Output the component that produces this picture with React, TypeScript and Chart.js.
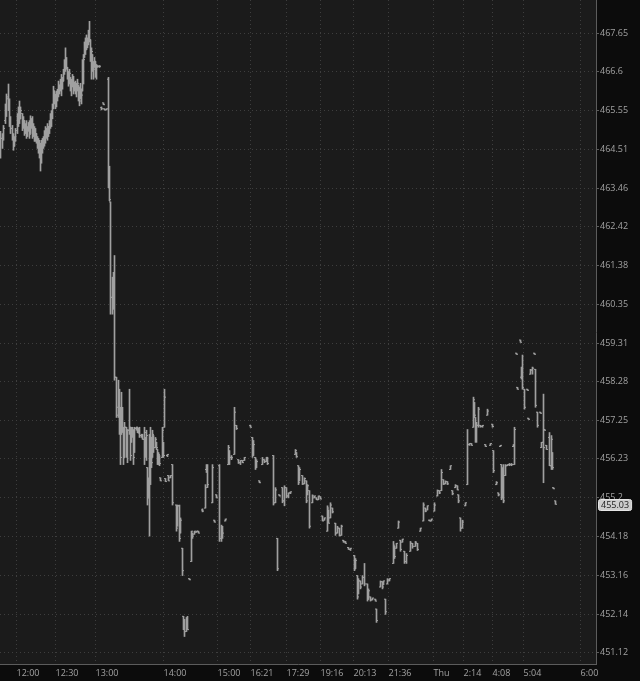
import React, { useEffect, useRef } from 'react';
import { Chart, registerables } from 'chart.js';

Chart.register(...registerables);

// [slot, open, high, low, close]
type Bar = [number, number, number, number, number];

const morningBars: Bar[] = [
  [0, 464.53, 464.99, 464.27, 464.8], [2, 464.8, 464.93, 464.53, 464.85], [3, 464.8, 465.15, 464.75, 465.07],
  [5, 465.28, 465.73, 465.2, 465.6], [6, 465.6, 466.0, 465.39, 465.87], [8, 465.92, 466.27, 465.55, 465.65],
  [9, 465.65, 465.87, 465.12, 465.33], [10, 465.33, 465.39, 464.93, 465.07], [12, 465.07, 465.15, 464.75, 464.85],
  [13, 464.85, 464.93, 464.48, 464.59], [14, 464.67, 464.85, 464.59, 464.8], [15, 464.8, 465.07, 464.72, 465.01],
  [17, 465.01, 465.47, 464.93, 465.39], [18, 465.39, 465.65, 465.12, 465.55], [19, 465.55, 465.81, 465.2, 465.33],
  [20, 465.33, 465.65, 465.33, 465.55], [22, 465.47, 465.47, 465.01, 465.12], [23, 465.12, 465.39, 465.07, 465.28],
  [24, 465.23, 465.28, 464.88, 464.96], [25, 465.01, 465.2, 464.93, 465.12], [26, 465.12, 465.28, 464.8, 464.91],
  [27, 464.96, 465.12, 464.85, 465.07], [28, 465.07, 465.23, 464.99, 465.17], [29, 465.17, 465.28, 464.8, 464.91],
  [30, 464.96, 465.41, 464.93, 465.33], [31, 465.28, 465.33, 465.07, 465.12], [32, 465.12, 465.39, 464.8, 464.93],
  [33, 464.93, 465.2, 464.85, 465.07], [34, 465.07, 465.12, 464.72, 464.8], [35, 464.8, 465.07, 464.72, 464.93],
  [36, 464.91, 464.93, 464.67, 464.72], [37, 464.75, 464.85, 464.53, 464.59], [38, 464.59, 464.8, 464.4, 464.53],
  [39, 464.53, 464.75, 464.27, 464.4], [40, 464.4, 464.67, 463.92, 464.53], [41, 464.53, 464.75, 464.13, 464.59],
  [42, 464.59, 464.8, 464.4, 464.67], [43, 464.67, 464.85, 464.53, 464.8], [44, 464.8, 465.01, 464.59, 464.93],
  [45, 464.93, 465.12, 464.67, 465.07], [46, 465.07, 465.07, 464.8, 464.85], [47, 464.85, 465.2, 464.75, 465.12],
  [48, 465.12, 465.12, 464.85, 465.01], [49, 465.01, 465.28, 464.93, 465.2], [50, 465.2, 465.47, 465.07, 465.39],
  [51, 465.39, 465.55, 465.12, 465.47], [52, 465.47, 465.73, 465.33, 465.65], [53, 465.65, 466.21, 465.6, 466.08],
  [54, 466.08, 466.08, 465.73, 465.87], [55, 465.87, 466.0, 465.6, 465.92], [56, 465.92, 466.08, 465.65, 466.0],
  [57, 466.0, 466.13, 465.81, 466.08], [58, 466.08, 466.35, 465.92, 466.24], [59, 466.24, 466.24, 466.0, 466.13],
  [60, 466.13, 466.4, 466.08, 466.29], [61, 466.29, 466.53, 465.95, 466.4], [62, 466.4, 466.45, 466.13, 466.35],
  [63, 466.35, 466.67, 466.35, 466.61], [64, 466.61, 466.93, 466.53, 466.8], [65, 466.8, 467.25, 466.61, 466.88],
  [66, 466.88, 466.99, 466.67, 466.72], [67, 466.72, 466.72, 466.4, 466.51], [68, 466.51, 466.61, 466.21, 466.29],
  [69, 466.29, 466.67, 466.27, 466.56], [70, 466.45, 466.45, 466.08, 466.13], [71, 466.13, 466.4, 465.95, 466.29],
  [72, 466.29, 466.53, 466.19, 466.45], [73, 466.45, 466.48, 466.0, 466.13], [74, 466.13, 466.32, 466.08, 466.24],
  [75, 466.24, 466.35, 466.0, 466.08], [76, 466.08, 466.29, 465.92, 466.19], [77, 466.19, 466.4, 466.08, 466.29],
  [78, 466.24, 466.24, 465.81, 465.92], [79, 465.92, 466.19, 465.68, 465.81], [80, 465.87, 466.29, 465.87, 466.13],
  [81, 466.13, 466.13, 465.73, 465.97], [82, 466.08, 466.93, 466.08, 466.8], [83, 466.8, 467.07, 466.27, 466.93],
  [84, 466.99, 467.41, 466.99, 467.33], [85, 467.33, 467.52, 467.07, 467.2], [86, 467.2, 467.6, 467.2, 467.47],
  [87, 467.47, 467.52, 467.25, 467.36], [88, 467.36, 467.73, 467.33, 467.63], [89, 467.63, 467.97, 467.41, 467.47],
  [90, 467.47, 467.47, 466.88, 466.99], [91, 466.99, 467.25, 466.4, 467.15], [92, 467.07, 467.07, 466.61, 466.72],
  [93, 466.72, 466.88, 466.4, 466.67], [94, 466.72, 466.99, 466.72, 466.88], [95, 466.88, 466.88, 466.45, 466.67],
  [96, 466.67, 466.8, 466.4, 466.75], [97, 466.75, 466.77, 466.72, 466.75], [99, 466.75, 466.77, 466.72, 466.75],
  [101, 465.63, 465.65, 465.57, 465.6], [103, 465.76, 465.76, 465.71, 465.71], [104, 465.6, 465.6, 465.57, 465.57],
  [106, 465.57, 465.6, 465.57, 465.6],
];

const dropBars: Bar[] = [
  [108, 466.4, 466.45, 463.47, 463.52], [109, 463.52, 464.05, 463.12, 463.15], [110, 463.09, 463.09, 460.08, 460.53],
  [112, 460.53, 461.07, 460.08, 460.8], [113, 460.8, 461.2, 460.21, 460.53], [114, 460.53, 461.65, 458.32, 458.4],
  [116, 458.4, 458.4, 457.33, 457.39], [118, 457.6, 458.32, 457.33, 457.87], [119, 457.87, 458.08, 456.88, 457.07],
  [120, 457.07, 457.6, 456.08, 456.27], [121, 456.88, 458.0, 456.88, 457.07], [122, 457.07, 457.6, 456.93, 457.01],
  [123, 457.01, 457.07, 456.08, 456.27], [124, 456.27, 457.2, 456.27, 457.07], [126, 457.07, 457.07, 456.27, 456.53],
  [127, 456.53, 457.01, 456.13, 456.99], [129, 456.99, 458.08, 456.88, 457.07], [130, 457.07, 457.07, 456.19, 456.32],
  [131, 456.67, 457.07, 456.67, 457.04], [132, 457.04, 457.07, 456.8, 456.93], [133, 456.93, 457.01, 456.08, 456.27],
  [134, 456.4, 457.07, 456.4, 457.04], [136, 457.04, 457.07, 456.99, 457.07], [137, 457.07, 457.07, 456.93, 456.93],
  [138, 456.93, 457.04, 456.91, 457.04], [139, 457.04, 457.07, 456.8, 456.85], [141, 456.85, 456.88, 456.8, 456.88],
  [142, 456.88, 456.88, 456.75, 456.75], [144, 456.75, 457.07, 456.08, 456.93], [145, 456.8, 456.8, 456.27, 456.4],
  [146, 456.4, 456.99, 456.19, 456.85], [147, 456.0, 456.0, 455.01, 455.2], [148, 455.2, 455.73, 455.2, 455.6],
  [149, 455.6, 456.88, 454.19, 456.0], [150, 456.0, 457.07, 455.55, 456.8], [151, 456.8, 456.8, 456.0, 456.13],
  [152, 456.27, 456.99, 456.27, 456.88], [153, 456.85, 456.85, 456.4, 456.53], [155, 456.53, 456.8, 456.53, 456.75],
  [156, 456.67, 456.67, 456.48, 456.53], [157, 456.48, 456.48, 456.08, 456.13], [158, 456.13, 456.4, 456.08, 456.35],
  [159, 456.32, 456.32, 456.05, 456.11], [160, 455.73, 455.73, 455.65, 455.65], [162, 456.27, 457.07, 456.27, 456.99],
  [163, 456.67, 456.67, 456.27, 456.32], [164, 457.07, 458.08, 457.07, 457.87], [165, 455.71, 455.71, 455.63, 455.63],
  [167, 456.32, 456.35, 456.29, 456.35], [168, 455.79, 455.79, 455.65, 455.65], [170, 455.73, 455.79, 455.73, 455.79],
  [172, 456.08, 456.08, 455.01, 455.07], [176, 455.01, 455.01, 454.32, 454.4], [177, 454.48, 455.01, 454.45, 454.99],
  [179, 454.99, 455.01, 454.05, 454.13], [180, 454.27, 454.67, 454.27, 454.61], [182, 453.87, 453.87, 453.15, 453.28],
  [183, 452.08, 452.08, 451.73, 451.92], [184, 451.92, 452.0, 451.55, 451.68], [186, 451.68, 452.05, 451.68, 452.0],
  [187, 452.0, 452.08, 451.73, 451.73], [189, 453.07, 453.07, 453.04, 453.04], [191, 453.52, 454.32, 453.52, 454.32],
  [192, 454.27, 454.27, 454.13, 454.19], [194, 454.24, 454.32, 454.24, 454.32], [196, 454.29, 454.32, 454.29, 454.32],
  [198, 454.32, 454.32, 454.27, 454.27],
];

const eveningBars: Bar[] = [
  [202, 454.88, 454.91, 454.83, 454.85], [205, 454.93, 455.55, 454.93, 455.47], [206, 455.95, 456.08, 455.87, 456.05],
  [207, 456.05, 456.08, 455.47, 455.55], [212, 455.07, 456.08, 455.07, 456.0], [214, 454.61, 454.61, 454.56, 454.56],
  [216, 455.28, 455.28, 455.2, 455.2], [219, 456.05, 456.08, 454.05, 454.13], [221, 454.13, 454.48, 454.05, 454.4],
  [222, 454.4, 454.45, 454.13, 454.27], [225, 454.59, 454.64, 454.59, 454.64], [228, 456.08, 456.59, 456.08, 456.53],
  [229, 456.45, 456.45, 456.08, 456.27], [231, 456.27, 456.32, 456.21, 456.27], [234, 456.35, 457.6, 456.35, 457.47],
  [236, 457.12, 457.12, 457.01, 457.04], [238, 456.21, 456.21, 456.11, 456.13], [240, 456.13, 456.19, 456.08, 456.19],
  [242, 456.19, 456.19, 456.13, 456.13], [244, 456.19, 456.27, 456.19, 456.27], [250, 457.12, 457.12, 457.07, 457.07],
  [252, 456.8, 456.8, 456.27, 456.32], [253, 456.32, 456.72, 456.32, 456.61], [255, 456.27, 456.27, 455.95, 456.0],
  [256, 456.0, 456.21, 456.0, 456.16], [259, 455.65, 455.65, 455.6, 455.6], [262, 456.08, 456.27, 456.08, 456.21],
  [264, 456.21, 456.21, 456.13, 456.16], [266, 456.16, 456.27, 456.16, 456.27], [267, 456.27, 456.27, 456.08, 456.11],
  [273, 456.32, 456.32, 455.01, 455.07], [275, 455.07, 455.47, 455.07, 455.41], [277, 454.13, 454.13, 453.28, 453.33],
  [279, 455.28, 455.28, 455.25, 455.25], [282, 455.47, 455.47, 455.07, 455.12], [284, 455.12, 455.52, 454.99, 455.47],
  [286, 455.47, 455.47, 455.2, 455.25], [288, 455.25, 455.33, 455.2, 455.33], [290, 455.33, 455.36, 455.31, 455.36],
  [295, 456.35, 456.48, 456.35, 456.45], [296, 456.4, 456.4, 456.27, 456.29], [298, 456.05, 456.05, 455.55, 455.6],
  [299, 455.65, 456.0, 455.65, 455.95], [302, 455.79, 455.79, 455.55, 455.57], [304, 455.57, 455.73, 455.57, 455.71],
  [306, 455.65, 455.65, 455.07, 455.12], [307, 455.28, 455.55, 455.28, 455.52], [309, 455.39, 455.39, 454.4, 454.45],
  [312, 455.07, 455.28, 455.07, 455.25], [314, 455.2, 455.25, 455.2, 455.25], [316, 455.2, 455.2, 455.15, 455.15],
  [318, 455.15, 455.25, 455.15, 455.25], [320, 455.23, 455.23, 455.17, 455.17], [322, 454.72, 454.72, 454.59, 454.59],
  [324, 454.61, 454.67, 454.61, 454.67], [327, 454.32, 454.99, 454.32, 454.93], [328, 454.88, 454.88, 454.53, 454.53],
  [330, 454.67, 455.07, 454.67, 455.01], [332, 454.93, 454.93, 454.8, 454.83],
];

const overnightBars: Bar[] = [
  [335, 454.53, 454.53, 454.21, 454.27], [337, 454.27, 454.45, 454.27, 454.4], [339, 454.4, 454.4, 454.19, 454.21],
  [341, 454.21, 454.48, 454.21, 454.45], [343, 454.08, 454.08, 454.03, 454.03], [345, 454.05, 454.05, 454.0, 454.0],
  [348, 453.89, 453.89, 453.84, 453.84], [350, 453.84, 453.87, 453.81, 453.87], [354, 453.68, 453.68, 453.28, 453.33],
  [355, 453.33, 453.6, 453.33, 453.55], [357, 453.15, 453.15, 452.53, 452.59], [358, 452.67, 453.07, 452.67, 453.01],
  [360, 453.01, 453.01, 452.8, 452.85], [362, 452.93, 453.15, 452.93, 453.1], [364, 453.1, 453.47, 452.88, 452.93],
  [367, 452.93, 452.93, 452.48, 452.53], [368, 452.53, 452.8, 452.53, 452.75], [370, 452.59, 452.59, 452.48, 452.51],
  [372, 452.51, 452.56, 452.51, 452.56], [375, 452.53, 452.53, 452.48, 452.48], [376, 452.27, 452.27, 451.92, 451.97],
  [380, 452.85, 453.01, 452.85, 452.99], [382, 452.99, 452.99, 452.8, 452.85], [383, 452.91, 453.01, 452.91, 453.01],
  [385, 452.53, 452.53, 452.13, 452.2], [387, 452.93, 453.07, 452.93, 453.04], [389, 453.01, 453.07, 453.01, 453.07],
  [393, 453.47, 454.05, 453.47, 453.95], [394, 453.92, 453.92, 453.6, 453.65], [396, 453.87, 454.0, 453.87, 454.0],
  [398, 454.4, 454.59, 454.4, 454.56], [400, 454.08, 454.08, 453.79, 453.84], [402, 454.03, 454.11, 454.03, 454.11],
  [404, 453.79, 453.79, 453.47, 453.52], [406, 453.52, 453.73, 453.47, 453.68], [410, 453.79, 454.05, 453.79, 454.0],
  [412, 454.0, 454.0, 453.87, 453.92], [415, 453.92, 454.05, 453.92, 454.03], [417, 454.0, 454.0, 453.81, 453.84],
  [420, 454.32, 454.4, 454.32, 454.4],
];

const earlyBars: Bar[] = [
  [423, 454.59, 455.07, 454.59, 455.01], [425, 454.93, 454.93, 454.83, 454.85], [427, 454.88, 454.99, 454.88, 454.99],
  [429, 454.61, 454.61, 454.59, 454.59], [431, 454.59, 454.64, 454.59, 454.64], [434, 454.85, 455.07, 454.85, 455.01],
  [437, 455.25, 455.41, 455.25, 455.39], [439, 455.39, 455.39, 455.31, 455.33], [441, 455.39, 455.95, 455.39, 455.87],
  [443, 455.68, 455.68, 455.55, 455.57], [445, 455.57, 455.65, 455.57, 455.63], [447, 455.63, 455.63, 455.55, 455.57],
  [450, 455.95, 456.05, 455.95, 456.05], [452, 455.39, 455.39, 455.28, 455.31], [455, 455.47, 455.55, 455.47, 455.52],
  [457, 455.52, 455.52, 455.41, 455.41], [458, 455.28, 455.28, 455.07, 455.12], [460, 454.67, 454.67, 454.32, 454.4],
  [462, 454.4, 454.61, 454.4, 454.56], [465, 454.99, 455.07, 454.99, 455.07], [467, 455.55, 457.01, 455.55, 456.61],
  [469, 456.61, 456.64, 456.59, 456.64], [471, 456.64, 456.64, 456.59, 456.59], [473, 457.07, 457.87, 457.07, 457.8],
  [474, 457.73, 457.73, 457.33, 457.39], [475, 457.33, 457.33, 456.67, 456.75], [476, 456.75, 457.2, 456.67, 457.12],
  [478, 457.12, 457.6, 457.07, 457.55], [480, 457.12, 457.12, 457.07, 457.09], [482, 457.09, 457.12, 457.07, 457.12],
  [485, 456.61, 456.61, 456.56, 456.56], [487, 457.39, 457.55, 457.39, 457.5], [490, 456.59, 456.64, 456.59, 456.64],
  [492, 457.15, 457.15, 457.07, 457.09], [493, 456.45, 456.45, 455.87, 455.92], [496, 455.55, 455.63, 455.55, 455.6],
  [498, 455.33, 455.33, 455.25, 455.28], [500, 456.56, 456.59, 456.56, 456.59], [501, 456.08, 456.08, 455.15, 455.2],
  [502, 455.2, 456.0, 455.2, 455.95], [503, 455.95, 456.08, 455.07, 455.12], [505, 455.79, 456.08, 455.79, 456.05],
  [507, 456.05, 456.08, 456.05, 456.08], [509, 456.08, 456.11, 456.05, 456.08], [511, 456.08, 456.11, 456.05, 456.08],
  [513, 456.56, 456.61, 456.56, 456.61], [514, 456.08, 457.07, 456.08, 457.01], [516, 459.04, 459.04, 459.01, 459.01],
  [517, 458.13, 458.13, 458.08, 458.08], [520, 459.39, 459.39, 459.33, 459.33], [521, 458.4, 458.67, 458.35, 458.59],
  [522, 458.59, 458.99, 458.08, 458.13], [524, 458.08, 458.08, 457.55, 457.6], [527, 458.08, 458.08, 458.05, 458.05],
  [528, 457.31, 457.31, 457.28, 457.28], [530, 458.48, 458.61, 458.48, 458.59], [532, 458.59, 458.67, 458.48, 458.64],
  [534, 459.04, 459.04, 459.01, 459.01], [535, 458.61, 458.61, 457.6, 457.65], [537, 457.47, 457.47, 457.07, 457.12],
  [540, 457.47, 457.47, 457.44, 457.44], [541, 456.53, 456.67, 456.53, 456.67], [543, 456.67, 457.95, 455.6, 456.53],
  [544, 457.01, 457.01, 456.99, 456.99], [546, 456.59, 456.59, 456.48, 456.48], [549, 456.8, 456.93, 456.05, 456.05],
  [551, 456.05, 456.85, 455.95, 456.75], [552, 456.4, 456.4, 455.95, 456.0], [553, 455.47, 455.47, 455.44, 455.44],
  [555, 455.12, 455.12, 455.03, 455.03],
];

const priceTicks = [
  451.12, 452.14, 453.16, 454.18, 455.2, 456.23, 457.25, 458.28, 459.31,
  460.35, 461.38, 462.42, 463.46, 464.51, 465.55, 466.6, 467.65,
];
const timeSlots = [16, 55, 95, 163, 217, 250, 286, 320, 353, 388, 433, 463, 492, 523, 580];
const timeLabels = ['12:00', '12:30', '13:00', '14:00', '15:00', '16:21', '17:29', '19:16', '20:13', '21:36', 'Thu', '2:14', '4:08', '5:04', '6:00'];
const lastPrice = 455.03;
const priceRange = [450.83, 468.55];
const slotRange = [-0.5, 595.5];

const BG = '#0c0c0c';
const PLOT = '#1b1b1b';
const GRID = '#3e3e3e';
const AXIS = '#5c5c5c';
const TEXT = '#a2a2a2';
const BAR = '#a0a0a0';
const FONT = { family: '"Open Sans", "Noto Sans", sans-serif', size: 9 };

const noPadding = (s: any) => {
  s.paddingTop = 0;
  s.paddingBottom = 0;
  s.paddingLeft = 0;
  s.paddingRight = 0;
};

const bgPlugin = {
  id: 'bgPlugin',
  beforeDraw(chart: any) {
    const { ctx, chartArea: a, width, height } = chart;
    ctx.save();
    ctx.fillStyle = BG;
    ctx.fillRect(0, 0, width, height);
    ctx.fillStyle = PLOT;
    ctx.fillRect(a.left, a.top, a.right - a.left, a.bottom - a.top);
    ctx.restore();
  },
};

const lastPricePlugin = {
  id: 'lastPricePlugin',
  afterDraw(chart: any) {
    const { ctx, chartArea: a } = chart;
    const y = chart.scales.y.getPixelForValue(lastPrice);
    const text = lastPrice.toFixed(2);
    ctx.save();
    ctx.font = `${FONT.size}px ${FONT.family}`;
    const w = ctx.measureText(text).width + 5;
    const h = 11;
    const x = a.right + 2.5;
    const top = Math.round(y - h / 2) + 0.5;
    ctx.beginPath();
    (ctx as any).roundRect(x, top, w, h, 2);
    ctx.fillStyle = '#cdcdcd';
    ctx.fill();
    ctx.strokeStyle = '#e6e6e6';
    ctx.lineWidth = 1;
    ctx.stroke();
    ctx.fillStyle = '#1c1c1c';
    ctx.textBaseline = 'middle';
    ctx.textAlign = 'left';
    ctx.fillText(text, x + 2.5, top + h / 2 + 0.5);
    ctx.restore();
  },
};

export default function App() {
  const canvasRef = useRef<HTMLCanvasElement | null>(null);

  useEffect(() => {
    const canvas = canvasRef.current;
    if (!canvas) return;
    const bars = [...morningBars, ...dropBars, ...eveningBars, ...overnightBars, ...earlyBars];

    const chart = new Chart(canvas, {
      type: 'bar',
      data: {
        datasets: [
          {
            type: 'bar',
            data: bars.map((b) => ({ x: b[0], y: [b[3], b[2]] })) as any,
            backgroundColor: BAR,
            borderWidth: 0,
            barThickness: 1,
            grouped: false,
            minBarLength: 1,
          } as any,
          {
            type: 'scatter',
            data: bars.map((b) => ({ x: b[0], y: b[1] })),
            pointStyle: 'dash',
            rotation: 180,
            radius: 1.5,
            borderColor: BAR,
            borderWidth: 1,
            clip: false,
          } as any,
          {
            type: 'scatter',
            data: bars.map((b) => ({ x: b[0], y: b[4] })),
            pointStyle: 'dash',
            radius: 1.5,
            borderColor: BAR,
            borderWidth: 1,
          } as any,
        ],
      },
      options: {
        responsive: false,
        animation: false,
        devicePixelRatio: 1,
        events: [],
        layout: { padding: 0, autoPadding: false },
        plugins: { legend: { display: false }, tooltip: { enabled: false } },
        scales: {
          x: {
            type: 'linear',
            min: slotRange[0],
            max: slotRange[1],
            offset: false,
            afterBuildTicks: (s: any) => {
              s.ticks = timeSlots.map((v) => ({ value: v }));
            },
            afterFit: (s: any) => {
              s.height = 17;
              noPadding(s);
            },
            ticks: {
              autoSkip: false,
              maxRotation: 0,
              align: 'start',
              padding: 4,
              color: TEXT,
              font: FONT,
              callback: (_v: any, i: number) => timeLabels[i],
            },
            grid: { color: GRID, lineWidth: 1, drawTicks: false, offset: false },
            border: { display: true, color: AXIS, width: 1, dash: [1, 3] },
          } as any,
          y: {
            type: 'logarithmic',
            position: 'right',
            min: priceRange[0],
            max: priceRange[1],
            afterBuildTicks: (s: any) => {
              s.ticks = priceTicks.map((v) => ({ value: v }));
            },
            afterFit: (s: any) => {
              s.width = 44;
              noPadding(s);
            },
            ticks: {
              padding: 1,
              color: TEXT,
              font: FONT,
              callback: (v: any) => String(v),
            },
            grid: {
              color: GRID,
              lineWidth: 1,
              drawTicks: true,
              tickLength: 3,
              tickColor: AXIS,
              tickBorderDash: [],
            },
            border: { display: true, color: AXIS, width: 1, dash: [1, 3] },
          } as any,
        },
      },
      plugins: [bgPlugin, lastPricePlugin],
    });

    return () => chart.destroy();
  }, []);

  return (
    <div style={{ position: 'fixed', left: 0, top: 0, width: 640, height: 681, background: BG }}>
      <canvas ref={canvasRef} width={640} height={681} style={{ display: 'block' }} />
    </div>
  );
}
